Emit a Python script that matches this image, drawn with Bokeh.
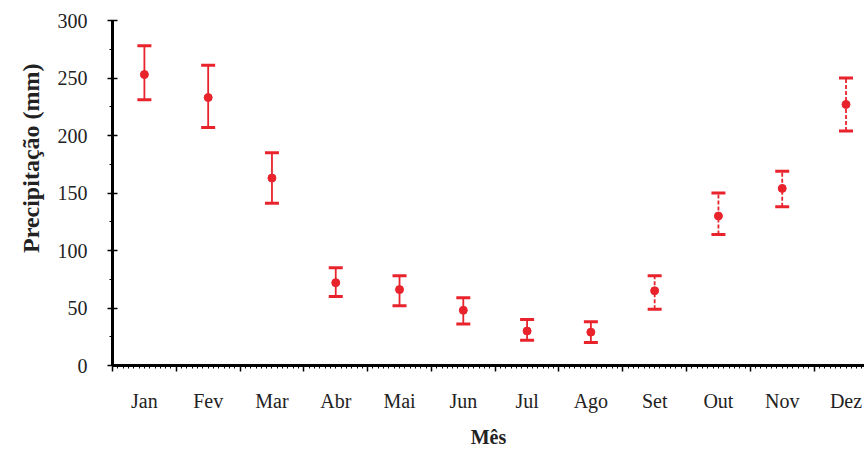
from bokeh.plotting import figure
from bokeh.models import (ColumnDataSource, Range1d, FixedTicker, LinearAxis,
                          Whisker, TeeHead, Title, CustomLabelingPolicy)
from bokeh.embed import file_html
from bokeh.resources import INLINE

months = ["Jan", "Fev", "Mar", "Abr", "Mai", "Jun", "Jul", "Ago", "Set", "Out", "Nov", "Dez"]
means = [253, 233, 163, 72, 66, 48, 30, 29, 65, 130, 154, 227]
upper = [278, 261, 185, 85, 78, 59, 40, 38, 78, 150, 169, 250]
lower = [231, 207, 141, 60, 52, 36, 22, 20, 49, 114, 138, 204]
y_ticks = [0, 50, 100, 150, 200, 250, 300]

RED = "#e8232c"
FONT = "Liberation Serif"
TXT = "#222222"

x = list(range(1, len(months) + 1))
split = 8  # Jan..Ago solid, Set..Dez dashed
src_solid = ColumnDataSource(dict(x=x[:split], m=means[:split], u=upper[:split], l=lower[:split]))
src_dash = ColumnDataSource(dict(x=x[split:], m=means[split:], u=upper[split:], l=lower[split:]))

p = figure(width=864, height=450, output_backend="svg", toolbar_location=None,
           x_range=Range1d(0.5, 12.29), y_range=Range1d(0, 300),
           min_border_left=112, min_border_right=0, min_border_top=20, min_border_bottom=85)
p.outline_line_color = None
p.xgrid.visible = False
p.ygrid.visible = False
p.background_fill_color = "white"
p.border_fill_color = "white"

for src, dash in ((src_solid, "solid"), (src_dash, "4 2")):
    w = Whisker(base="x", upper="u", lower="l", source=src,
                line_color=RED, line_width=1.8, line_dash=dash,
                upper_head=TeeHead(size=14, line_color=RED, line_width=3),
                lower_head=TeeHead(size=14, line_color=RED, line_width=3))
    p.add_layout(w)
    p.scatter("x", "m", source=src, marker="circle", size=8, color=RED)

# x axis: boundary ticks + fine minor ticks, no labels
bounds = [i + 0.5 for i in range(0, 13)]
fine = [i / 12 + 0.5 for i in range(0, 145)]
xa = p.xaxis[0]
xa.ticker = FixedTicker(ticks=bounds, minor_ticks=fine)
xa.axis_line_width = 3
xa.axis_line_color = "black"
xa.major_tick_in = 0
xa.major_tick_out = 6
xa.major_tick_line_width = 1.5
xa.minor_tick_in = 0
xa.minor_tick_out = 3
xa.minor_tick_line_width = 1
xa.major_label_policy = CustomLabelingPolicy(code="return new Set()")
xa.major_label_standoff = 0
xa.major_label_text_font_size = "1px"

lab = LinearAxis(ticker=FixedTicker(ticks=x, minor_ticks=[]),
                 major_label_overrides={i: m for i, m in zip(x, months)})
lab.axis_line_color = None
lab.major_tick_line_color = None
lab.minor_tick_line_color = None
lab.major_label_standoff = 8
lab.major_label_text_font = FONT
lab.major_label_text_font_size = "20px"
lab.major_label_text_color = TXT
lab.axis_label = "Mês"
lab.axis_label_text_font = FONT
lab.axis_label_text_font_style = "bold"
lab.axis_label_text_font_size = "20px"
lab.axis_label_text_color = TXT
lab.axis_label_standoff = 11
p.add_layout(lab, "below")

ya = p.yaxis[0]
ya.ticker = FixedTicker(ticks=y_ticks, minor_ticks=[v + 25 for v in y_ticks[:-1]])
ya.axis_line_width = 3
ya.axis_line_color = "black"
ya.major_tick_in = 5
ya.major_tick_out = 5
ya.major_tick_line_width = 1.5
ya.minor_tick_in = 0
ya.minor_tick_out = 3
ya.major_label_standoff = 20
ya.major_label_text_font = FONT
ya.major_label_text_font_size = "20px"
ya.major_label_text_color = TXT

yt = Title(text="Precipitação (mm)", align="right", offset=43, standoff=17,
           vertical_align="top",
           text_font=FONT, text_font_style="bold", text_font_size="24px", text_color=TXT)
p.add_layout(yt, "left")

open("out.html", "w").write(file_html(p, INLINE))
